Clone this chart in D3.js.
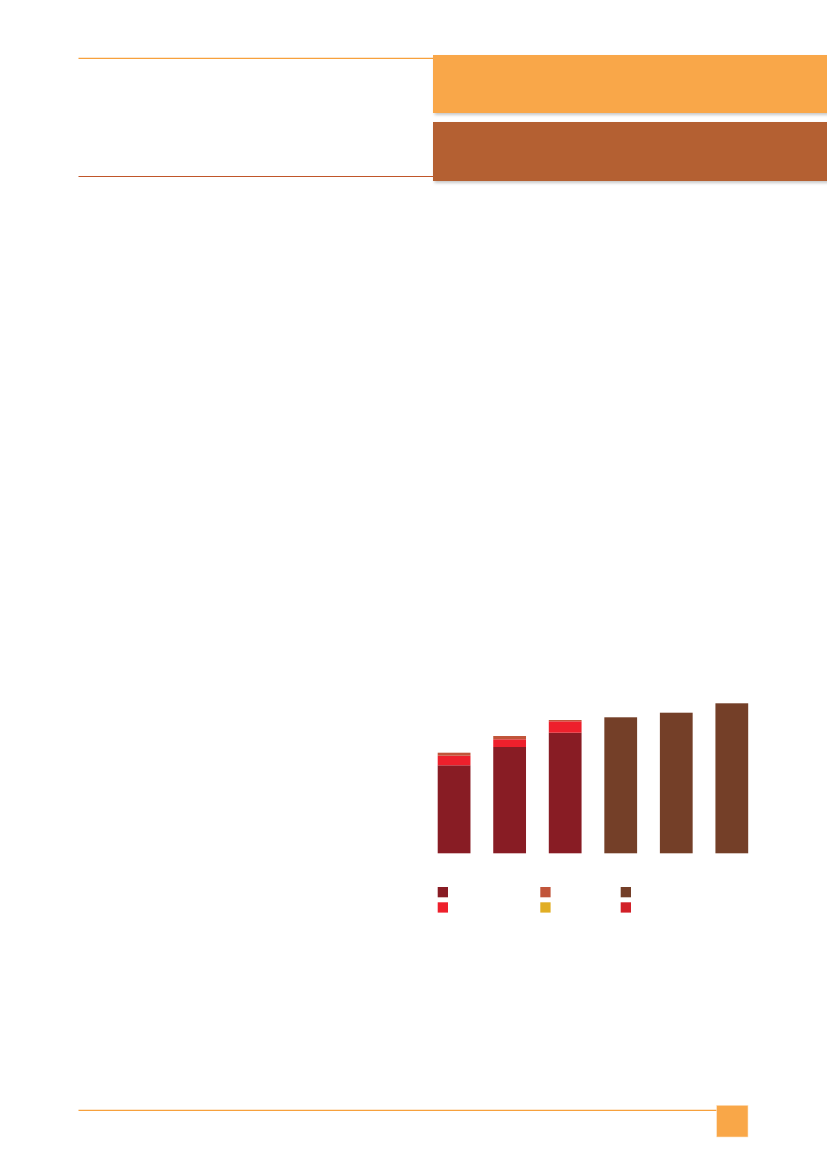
<!DOCTYPE html>
<html>
<head>
<meta charset="utf-8">
<script src="https://cdn.jsdelivr.net/npm/d3@7"></script>
<style>
  body { margin: 0; background: #fff; }
</style>
</head>
<body>
<div id="graph"></div>
<script>
const d3 = window.d3;

// data (no labels are printed on the page)
const categories = ["c1", "c2", "c3", "c4", "c5", "c6"];
const seriesKeys = ["s1", "s2", "s3", "s4", "s5", "s6"];
const s1 = [88, 106.3, 120.6, 0, 0, 0];
const s2 = [9.6, 7.7, 11.4, 0, 0, 0];
const s3 = [3, 3.3, 1.3, 0, 0, 0];
const s4 = [0, 0, 0, 136, 140.6, 150];
const s5 = [0, 0, 0, 0, 0, 0];
const s6 = [0, 0, 0, 0, 0, 0];
const seriesColors = ["#881c24", "#ee202c", "#c1553a", "#743f28", "#e1ae24", "#d22028"];
// legend order as shown: column by column
const legendOrder = ["s1", "s2", "s3", "s5", "s4", "s6"];

const W = 827, H = 1169;

const svg = d3.select("#graph")
    .append("svg")
    .attr("width", W)
    .attr("height", H);

// drop shadow for header bands
const defs = svg.append("defs");
const f = defs.append("filter").attr("id", "shadow")
    .attr("x", "-5%").attr("y", "-20%").attr("width", "115%").attr("height", "150%");
f.append("feDropShadow")
    .attr("dx", 1.5).attr("dy", 2).attr("stdDeviation", 1.5)
    .attr("flood-color", "#000").attr("flood-opacity", 0.22);

// header
svg.append("line").attr("x1", 78.5).attr("x2", 433).attr("y1", 58.3).attr("y2", 58.3)
    .attr("stroke", "#f7a13d").attr("stroke-width", 1.2);
svg.append("line").attr("x1", 78.5).attr("x2", 433).attr("y1", 176.5).attr("y2", 176.5)
    .attr("stroke", "#c0562a").attr("stroke-width", 1.2);
svg.append("rect").attr("x", 433).attr("y", 55).attr("width", 400).attr("height", 58)
    .attr("fill", "#f9a748").attr("filter", "url(#shadow)");
svg.append("rect").attr("x", 433).attr("y", 122).attr("width", 400).attr("height", 59)
    .attr("fill", "#b46033").attr("filter", "url(#shadow)");

// footer
svg.append("line").attr("x1", 78.5).attr("x2", 717).attr("y1", 1110.3).attr("y2", 1110.3)
    .attr("stroke", "#f7a13d").attr("stroke-width", 1.2);
svg.append("rect").attr("x", 716.7).attr("y", 1105.3).attr("width", 31.3).attr("height", 31.7)
    .attr("fill", "#f9a748").attr("stroke", "#fde3c4").attr("stroke-width", 0.6);

// chart
const table = categories.map((c, i) => ({
    cat: c, s1: s1[i], s2: s2[i], s3: s3[i], s4: s4[i], s5: s5[i], s6: s6[i]
}));
const stacked = d3.stack().keys(seriesKeys)(table);

const x = d3.scaleBand()
    .domain(categories)
    .range([437.7, 748.2])
    .paddingInner(0.41)
    .paddingOuter(0);
const y = d3.scaleLinear()
    .domain([0, 160])
    .range([853.3, 693.3]);
const color = d3.scaleOrdinal().domain(seriesKeys).range(seriesColors);

const chart = svg.append("g");
chart.selectAll("g.layer")
    .data(stacked)
    .enter().append("g")
    .attr("class", "layer")
    .attr("fill", d => color(d.key))
    .selectAll("rect")
    .data(d => d.filter(p => p[1] - p[0] > 0))
    .enter().append("rect")
    .attr("x", d => x(d.data.cat))
    .attr("width", x.bandwidth())
    .attr("y", d => y(d[1]))
    .attr("height", d => y(d[0]) - y(d[1]));

// legend (swatches only, no text in the picture)
const legendX = [437.7, 540.3, 620.7];
const legendY = [887, 902.3];
svg.append("g")
    .selectAll("rect")
    .data(legendOrder)
    .enter().append("rect")
    .attr("x", (d, i) => legendX[Math.floor(i / 2)])
    .attr("y", (d, i) => legendY[i % 2])
    .attr("width", 10.3)
    .attr("height", 10.3)
    .attr("fill", d => color(d));
</script>
</body>
</html>
